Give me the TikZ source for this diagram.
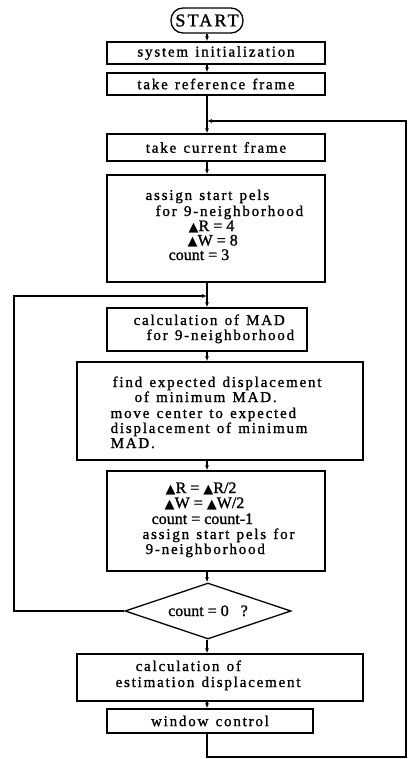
\documentclass[tikz,border=0pt]{standalone}
\usepackage{fontspec}
\setmainfont{Liberation Serif}[LetterSpace=12,WordSpace=1.3,FakeBold=1.2]
\newfontfamily\eqfont{Liberation Serif}[FakeBold=1.2]
\newfontfamily\symfont{DejaVu Sans}
\usetikzlibrary{shapes.geometric,arrows.meta}
\newcommand{\dtri}{{\symfont\fontsize{13}{13}\selectfont ▲}}
\begin{document}
\begin{tikzpicture}[x=1pt,y=-1pt,line width=1.3pt,
  box/.style={draw,rectangle,inner sep=0pt},
  arr/.style={-{Latex[length=5pt,width=4pt]}},
  ln/.style={anchor=base west,inner sep=0pt,font=\fontsize{15}{15}\selectfont},
  cl/.style={font=\fontsize{15}{15}\selectfont},
  eq/.style={anchor=base west,inner sep=0pt,font=\eqfont\fontsize{16}{16}\selectfont}]
\useasboundingbox (0,0) rectangle (409,759);
\coordinate (m) at (207,0);
% boxes
\node[draw,rounded corners=12pt,minimum width=72pt,minimum height=25pt,inner sep=0pt,font=\fontsize{18}{18}\selectfont] (start) at (207,20.5) {START};
\node[box,cl,minimum width=218pt,minimum height=22pt] (init) at (216,53) {system initialization};
\node[box,cl,minimum width=218pt,minimum height=22pt] (ref) at (216,84) {take reference frame};
\node[box,cl,minimum width=218pt,minimum height=27pt] (cur) at (216,147.5) {take current frame};
\node[box,minimum width=218pt,minimum height=107pt] (asg) at (216,228.5) {};
\node[box,minimum width=200pt,minimum height=43pt] (mad) at (207,329.5) {};
\node[box,minimum width=286pt,minimum height=98pt] (find) at (220,411) {};
\node[box,minimum width=218pt,minimum height=100pt] (dr) at (216,521) {};
\node[draw,diamond,aspect=2.9,minimum width=166pt,minimum height=56pt,inner sep=0pt] (dia) at (208,611) {};
\node[box,minimum width=286pt,minimum height=47pt] (est) at (220,677.5) {};
\node[box,cl,minimum width=206pt,minimum height=24pt] (win) at (210,721) {window control};
% texts
\node[ln] (a1) at (145,200) {assign start pels};
\node[ln] (a2) at (155,216) {for 9-neighborhood};
\node[eq] (a3) at (188,231) {\dtri R = 4};
\node[eq] (a4) at (187,245.5) {\dtri W = 8};
\node[eq] (a5) at (168,260) {count = 3};
\node[ln] (m1) at (133,325) {calculation of MAD};
\node[ln] (m2) at (146,340) {for 9-neighborhood};
\node[ln] (f1) at (112,387) {find expected displacement};
\node[ln] (f2) at (134,402) {of minimum MAD.};
\node[ln] (f3) at (110,418) {move center to expected};
\node[ln] (f4) at (110,433) {displacement of minimum};
\node[ln] (f5) at (110,448) {MAD.};
\node[eq] (d1) at (165,493) {\dtri R = \dtri R/2};
\node[eq] (d2) at (164,508) {\dtri W = \dtri W/2};
\node[eq] (d3) at (151,524) {count = count-1};
\node[ln] (d4) at (142,539) {assign start pels for};
\node[ln] (d5) at (145,554) {9-neighborhood};
\node[eq,anchor=base] (q) at (208,616) {count = 0 \ \ ?};
\node[ln] (e1) at (135,671) {calculation of};
\node[ln] (e2) at (115,687) {estimation displacement};
% connectors
\coordinate (j1) at (207,121);
\coordinate (j2) at (207,296);
\coordinate (rb) at (406,757);
\coordinate (lt) at (14,296);
\draw[arr] (start.south -| m) -- (init.north -| m);
\draw[arr] (init.south -| m) -- (ref.north -| m);
\draw[arr] (ref.south -| m) -- (cur.north -| m);
\draw[arr] (cur.south -| m) -- (asg.north -| m);
\draw[arr] (asg.south -| m) -- (mad.north -| m);
\draw[arr] (mad.south -| m) -- (find.north -| m);
\draw[arr] (find.south -| m) -- (dr.north -| m);
\draw[arr] (dr.south -| m) -- (dia.north -| m);
\draw[arr] (dia.south -| m) -- (est.north -| m);
\draw[arr] (est.south -| m) -- (win.north -| m);
\draw[arr] (win.south -| m) |- (rb) |- (j1);
\draw[arr] (dia.west) -| (lt) -- (j2);
\end{tikzpicture}
\end{document}
